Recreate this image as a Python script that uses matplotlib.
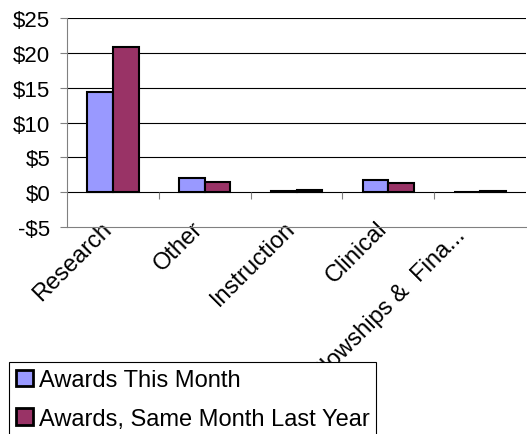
import matplotlib
matplotlib.use('Agg')
import matplotlib.pyplot as plt
import matplotlib.transforms as mtransforms
import numpy as np

plt.rcParams['font.family'] = ['Liberation Sans', 'DejaVu Sans']

categories = ['Research', 'Other', 'Instruction', 'Clinical', 'Fellowships &  Fina...']
this_month = [14.4, 2.0, 0.1, 1.7, 0.0]
last_year = [20.9, 1.5, 0.3, 1.3, 0.1]
yticks = [-5, 0, 5, 10, 15, 20, 25]
ytick_labels = ['-$5', '$0', '$5', '$10', '$15', '$20', '$25']

fs = 17

fig = plt.figure(figsize=(5.27, 4.35), dpi=100)
ax = fig.add_axes([67/527, 1-228/435, 459/527, 209/435])

x = np.arange(len(categories))
w = 0.28
ax.bar(x - w/2, this_month, w, color='#9999FF', edgecolor='black', linewidth=1.5,
       label='Awards This Month', zorder=3)
ax.bar(x + w/2, last_year, w, color='#993366', edgecolor='black', linewidth=1.5,
       label='Awards, Same Month Last Year', zorder=3)

ax.set_xlim(-0.5, len(categories) - 0.5)
ax.set_ylim(-5, 25)
ax.set_yticks(yticks)
ax.set_yticklabels(ytick_labels, fontsize=fs - 1)
for v in yticks[1:]:
    ax.axhline(v, color='black', lw=0.8, zorder=1)

# category tick marks hanging from the zero line
ax.vlines(x[:-1] + 0.5, -1, 0, color='#808080', lw=0.8, zorder=2)

ax.set_xticks(x)
ax.set_xticklabels(categories, rotation=45, ha='right', va='center',
                   rotation_mode='anchor', fontsize=fs)
ax.tick_params(axis='x', length=0, pad=0)
ax.tick_params(axis='y', length=5, color='#808080', pad=7)
labs = ax.get_xticklabels()
for i, lab in enumerate(labs):
    if i == len(labs) - 1:
        off = mtransforms.ScaledTranslation(-18/100, -4/100, fig.dpi_scale_trans)
    else:
        off = mtransforms.ScaledTranslation(-5/100, 2/100, fig.dpi_scale_trans)
    lab.set_transform(lab.get_transform() + off)

for s in ['top', 'right']:
    ax.spines[s].set_visible(False)
ax.spines['left'].set_color('#808080')
ax.spines['bottom'].set_color('#808080')

leg = fig.legend(loc='upper left', bbox_to_anchor=(9/527, 1-363/435), fontsize=fs,
                 fancybox=False, edgecolor='black', framealpha=1,
                 handlelength=0.7, handleheight=0.7, handletextpad=0.25,
                 labelspacing=0.7, borderpad=0.3, borderaxespad=0)
leg.get_frame().set_linewidth(0.8)
leg.set_zorder(10)
for p in leg.get_patches():
    p.set_linewidth(2)

plt.savefig('out.png', dpi=100)
